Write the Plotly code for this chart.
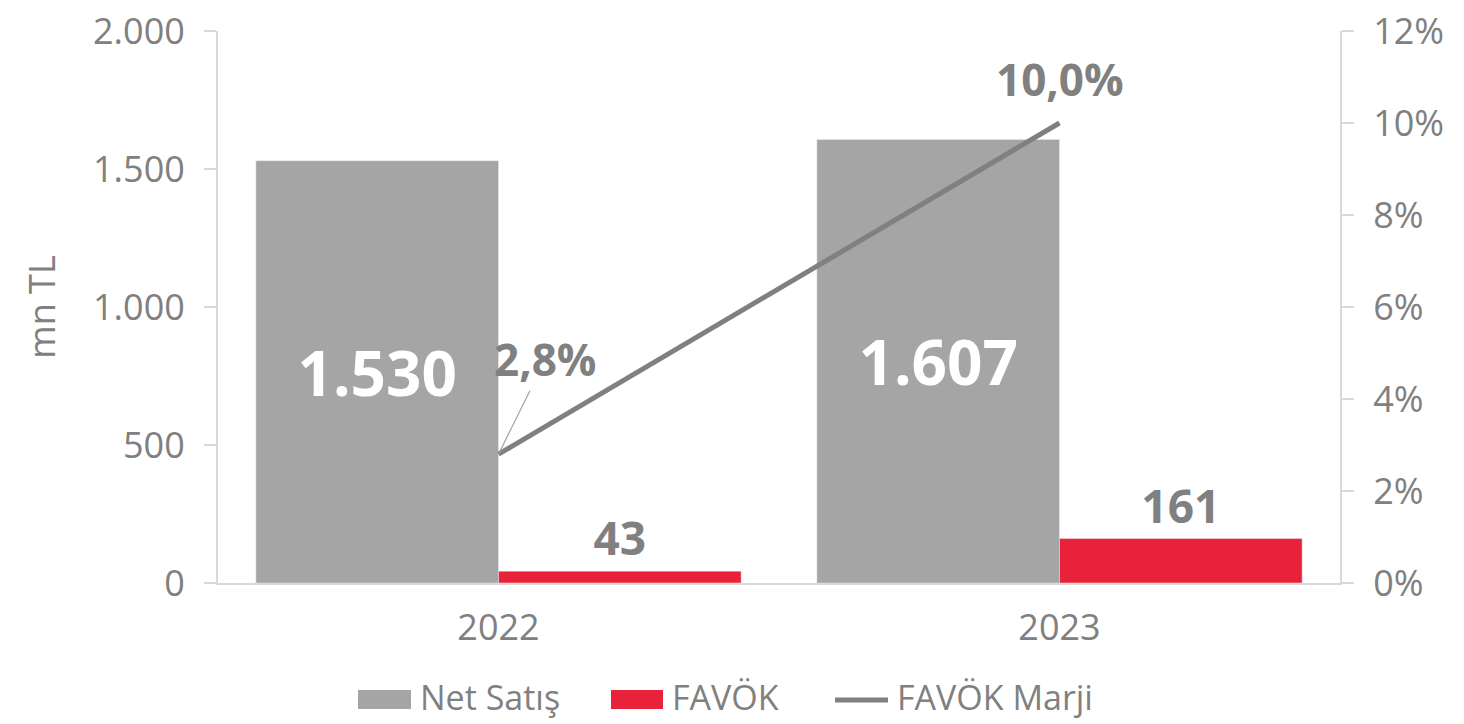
import plotly.graph_objects as go

years = ["2022", "2023"]
net_satis = [1530, 1607]
favok = [43, 161]
favok_marji = [2.8, 10.0]
series_names = ["Net Satış", "FAVÖK", "FAVÖK Marji"]

GRAY = "#A5A5A5"
RED = "#E8223A"
LINE = "#808080"
TXT = "#808080"
AX = "#D9D9D9"
FONT = "Open Sans"

fig = go.Figure()
fig.add_trace(go.Bar(
    x=years, y=net_satis, name=series_names[0], marker_color=GRAY,
    texttemplate="%{y:,.0f}", textposition="inside", insidetextanchor="middle",
    insidetextfont=dict(family=FONT, size=62, color="white", weight="bold"),
    cliponaxis=False,
))
fig.add_trace(go.Bar(
    x=years, y=favok, name=series_names[1], marker_color=RED,
    texttemplate="%{y:,.0f}", textposition="outside",
    outsidetextfont=dict(family=FONT, size=46, color=TXT, weight="bold"),
    cliponaxis=False,
))
fig.add_trace(go.Scatter(
    x=years, y=favok_marji, name=series_names[2], mode="lines",
    line=dict(color=LINE, width=5), yaxis="y2", cliponaxis=False,
))

# labels for the margin line (category index positions)
fig.add_annotation(
    x=0, y=favok_marji[0], yref="y2", xref="x",
    text=f"{favok_marji[0]:.1f}%".replace(".", ","),
    showarrow=True, arrowhead=0, arrowwidth=1.2, arrowcolor="#A0A0A0",
    ax=47, ay=-95, standoff=0,
    font=dict(family=FONT, size=44, color=TXT, weight="bold"),
)
fig.add_annotation(
    x=1, y=favok_marji[1], yref="y2", xref="x",
    text=f"{favok_marji[1]:.1f}%".replace(".", ","),
    showarrow=False, yshift=44,
    font=dict(family=FONT, size=44, color=TXT, weight="bold"),
)

# ---- custom legend (wide swatches like the reference) ----
PL, PR, PT, PB = 218, 1340, 31, 583   # plot area in page pixels
def px_x(p):
    return (p - PL) / (PR - PL)
def px_y(p):
    return (PB - p) / (PB - PT)

legend_items = [
    # (swatch x0, swatch x1, text x, kind, colour)
    (358, 411, 418, "rect", GRAY),
    (611, 663, 670, "rect", RED),
    (835, 888, 895, "line", LINE),
]
for (sx0, sx1, tx, kind, col), name in zip(legend_items, series_names):
    if kind == "rect":
        fig.add_shape(type="rect", xref="paper", yref="paper",
                      x0=px_x(sx0), x1=px_x(sx1), y0=px_y(709), y1=px_y(690),
                      fillcolor=col, line=dict(width=0))
    else:
        fig.add_shape(type="line", xref="paper", yref="paper",
                      x0=px_x(sx0), x1=px_x(sx1), y0=px_y(700), y1=px_y(700),
                      line=dict(color=col, width=5))
    fig.add_annotation(xref="paper", yref="paper", x=px_x(tx), y=px_y(697),
                       xanchor="left", yanchor="middle", showarrow=False,
                       text=name, font=dict(family=FONT, size=34, color=TXT))

fig.update_layout(
    width=1464, height=724,
    margin=dict(l=PL, r=1464 - PR, t=PT, b=724 - PB, autoexpand=False),
    paper_bgcolor="white", plot_bgcolor="white",
    separators=",.",
    barmode="group", bargap=0.135, bargroupgap=0,
    font=dict(family=FONT, color=TXT, size=34),
    showlegend=False,
    xaxis=dict(type="category", range=[-0.5, len(years) - 0.5],
               showline=True, linecolor=AX, linewidth=2, ticks="outside",
               ticklen=12, tickcolor="rgba(0,0,0,0)",
               tickfont=dict(family=FONT, size=36, color=TXT)),
    yaxis=dict(range=[0, 2000], dtick=500, tickformat=",.0f", showgrid=False,
               showline=True, linecolor=AX, linewidth=2, ticks="outside", ticklen=12,
               tickcolor=AX, tickwidth=2, zeroline=False, ticklabeloverflow="allow",
               tickfont=dict(family=FONT, size=36, color=TXT), ticklabelstandoff=12,
               title=dict(text="mn TL", font=dict(family=FONT, size=36, color=TXT), standoff=26)),
    yaxis2=dict(range=[0, 12], dtick=2, ticksuffix="%", overlaying="y", side="right",
                showgrid=False, showline=True, linecolor=AX, linewidth=2,
                ticks="outside", ticklen=12, tickcolor=AX, tickwidth=2, zeroline=False,
                ticklabeloverflow="allow",
                tickfont=dict(family=FONT, size=36, color=TXT), ticklabelstandoff=12),
)

# remove the page's default body margin so the 1464x724 figure fills the window
fig.write_html("out.html", config={"displayModeBar": False},
               post_script="document.body.style.margin='0';document.body.style.overflow='hidden';")
